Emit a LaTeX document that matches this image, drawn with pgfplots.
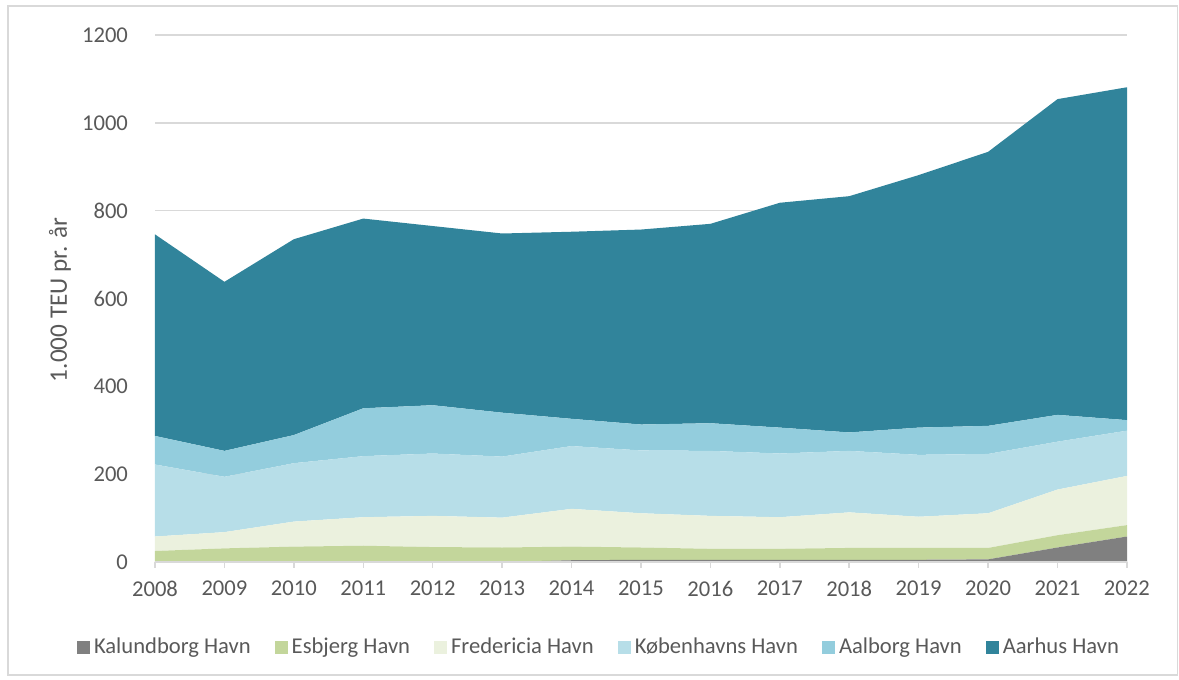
\documentclass[border=0pt]{standalone}
\usepackage{fontspec}
\setmainfont{Carlito}
\usepackage{pgfplots}
\pgfplotsset{compat=1.18}

\definecolor{kal}{HTML}{808080}
\definecolor{esb}{HTML}{C3D69B}
\definecolor{fre}{HTML}{EBF1DE}
\definecolor{kbh}{HTML}{B7DEE8}
\definecolor{aal}{HTML}{93CDDD}
\definecolor{aar}{HTML}{31849B}
\definecolor{gridgray}{HTML}{D9D9D9}
\definecolor{txt}{HTML}{595959}

\pgfplotsset{
  frame/.style={at={(77.5pt,59pt)}, anchor=south west,
    scale only axis, width=486pt, height=263.5pt,
    xmin=2008, xmax=2022, ymin=0, ymax=1200},
}

\begin{document}
\begin{tikzpicture}
% page = 1179 x 680 px at 0.5pt per px
\path[use as bounding box] (0pt,0pt) rectangle (589.5pt,340pt);
\draw[gridgray, line width=0.6pt] (4pt,2.5pt) rectangle (588.8pt,337pt);

% grid alone, drawn first so that it stays behind the areas
\begin{axis}[frame,
  xtick=\empty, ytick={200,400,...,1200}, yticklabels={},
  axis line style={draw=none}, ytick style={draw=none},
  ymajorgrids, grid style={gridgray, line width=0.75pt}]
\end{axis}

\begin{axis}[frame,
  xtick={2008,2009,...,2022},
  ytick={0,200,...,1200},
  /pgf/number format/1000 sep={},
  /pgf/number format/assume math mode=true,
  axis lines*=left,
  x axis line style={gridgray, line width=0.75pt},
  y axis line style={draw=none},
  tick align=outside,
  major tick length=3pt,
  xtick style={gridgray, line width=0.75pt},
  ytick style={draw=none},
  tick label style={font=\fontsize{11.3}{13}\selectfont, color=txt},
  yticklabel style={xshift=-7pt},
  xticklabel style={yshift=-3pt},
  ylabel={1.000 TEU pr. år},
  ylabel style={font=\fontsize{12.6}{14}\selectfont, color=txt,
                at={(axis description cs:-0.0977,0.497)}, anchor=center},
  stack plots=y, area style,
  legend image code/.code={\fill[#1] (0pt,-3.25pt) rectangle (6.5pt,3.25pt);},
  legend style={at={(axis description cs:0.4578,-0.1613)}, anchor=center,
                draw=none, fill=none, legend columns=6,
                font=\fontsize{11.3}{13}\selectfont, text=txt,
                /tikz/every even column/.append style={column sep=10pt}},
  legend cell align=left,
]
\addplot[fill=kal, draw=none] coordinates {
  (2008,0) (2009,0) (2010,0) (2011,0) (2012,0) (2013,0) (2014,4) (2015,5)
  (2016,5) (2017,5) (2018,5) (2019,5) (2020,6) (2021,33) (2022,58)} \closedcycle;
\addplot[fill=esb, draw=none] coordinates {
  (2008,25) (2009,31) (2010,35) (2011,37) (2012,34) (2013,33) (2014,31) (2015,28)
  (2016,25) (2017,25) (2018,27) (2019,27) (2020,26) (2021,28) (2022,26)} \closedcycle;
\addplot[fill=fre, draw=none] coordinates {
  (2008,33) (2009,37) (2010,57) (2011,65) (2012,71) (2013,68) (2014,86) (2015,78)
  (2016,75) (2017,72) (2018,81) (2019,71) (2020,79) (2021,104) (2022,112)} \closedcycle;
\addplot[fill=kbh, draw=none] coordinates {
  (2008,164) (2009,126) (2010,133) (2011,139) (2012,142) (2013,139) (2014,143) (2015,143)
  (2016,148) (2017,145) (2018,140) (2019,141) (2020,135) (2021,109) (2022,103)} \closedcycle;
\addplot[fill=aal, draw=none] coordinates {
  (2008,65) (2009,59) (2010,64) (2011,109) (2012,110) (2013,100) (2014,62) (2015,59)
  (2016,63) (2017,59) (2018,42) (2019,62) (2020,64) (2021,61) (2022,24)} \closedcycle;
\addplot[fill=aar, draw=none] coordinates {
  (2008,459) (2009,385) (2010,446) (2011,432) (2012,408) (2013,408) (2014,426) (2015,444)
  (2016,454) (2017,512) (2018,538) (2019,575) (2020,624) (2021,719) (2022,758)} \closedcycle;
\legend{Kalundborg Havn, Esbjerg Havn, Fredericia Havn, Københavns Havn, Aalborg Havn, Aarhus Havn}
\end{axis}
\end{tikzpicture}
\end{document}
